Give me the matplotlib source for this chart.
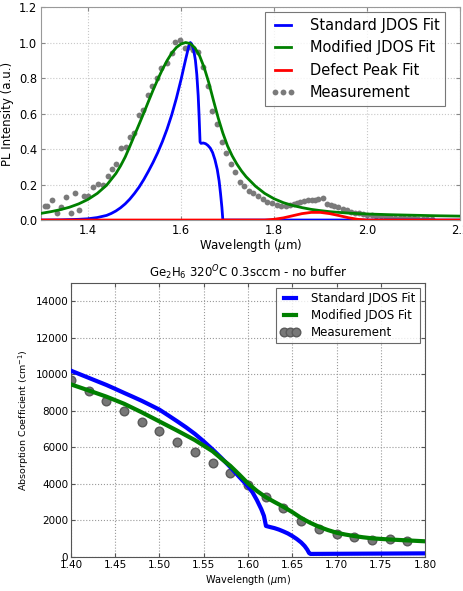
import numpy as np
import matplotlib
matplotlib.use('Agg')
import matplotlib.pyplot as plt

# ---- top panel: PL spectrum ----
pl_green_x = [1.30, 1.32, 1.34, 1.36, 1.38, 1.40, 1.42, 1.44, 1.46, 1.47, 1.48, 1.49, 1.50,
              1.51, 1.52, 1.53, 1.54, 1.55, 1.56, 1.57, 1.58, 1.59, 1.60, 1.61, 1.62, 1.63,
              1.64, 1.65, 1.66, 1.67, 1.68, 1.69, 1.70, 1.71, 1.72, 1.73, 1.74, 1.76, 1.78,
              1.80, 1.82, 1.84, 1.86, 1.88, 1.90, 1.92, 1.96, 2.00, 2.05, 2.10, 2.15, 2.20]
pl_green_y = [0.038, 0.047, 0.058, 0.072, 0.091, 0.116, 0.150, 0.196, 0.262, 0.305, 0.355,
              0.415, 0.478, 0.540, 0.603, 0.668, 0.732, 0.792, 0.848, 0.898, 0.940, 0.972,
              0.992, 1.000, 0.994, 0.970, 0.925, 0.858, 0.772, 0.672, 0.575, 0.490, 0.418,
              0.362, 0.316, 0.277, 0.244, 0.191, 0.150, 0.120, 0.098, 0.082, 0.070, 0.060,
              0.053, 0.047, 0.039, 0.034, 0.030, 0.027, 0.024, 0.022]

pl_blue_x = [1.30, 1.34, 1.38, 1.40, 1.42, 1.44, 1.45, 1.46, 1.47, 1.48, 1.49, 1.50, 1.51,
             1.52, 1.53, 1.54, 1.55, 1.56, 1.57, 1.58, 1.59, 1.60, 1.605, 1.61, 1.615, 1.618,
             1.620, 1.623, 1.627, 1.631, 1.634, 1.637, 1.639, 1.641, 1.643, 1.648, 1.653,
             1.658, 1.663, 1.668, 1.673, 1.678, 1.682, 1.685, 1.688, 1.690, 2.20]
pl_blue_y = [0.000, 0.001, 0.004, 0.007, 0.014, 0.026, 0.037, 0.051, 0.069, 0.091, 0.118,
             0.150, 0.186, 0.228, 0.275, 0.325, 0.380, 0.442, 0.512, 0.592, 0.685, 0.790,
             0.848, 0.905, 0.960, 0.990, 1.000, 0.992, 0.962, 0.900, 0.820, 0.700, 0.580,
             0.440, 0.432, 0.434, 0.430, 0.420, 0.405, 0.380, 0.340, 0.285, 0.220, 0.150,
             0.070, 0.000, 0.000]

pl_red_x = [1.30, 1.78, 1.80, 1.82, 1.84, 1.86, 1.88, 1.90, 1.92, 1.94, 1.96, 1.98, 2.00, 2.20]
pl_red_y = [0.0, 0.0, 0.004, 0.012, 0.024, 0.036, 0.043, 0.043, 0.036, 0.025, 0.013, 0.004, 0.0, 0.0]

pl_meas_x = [1.308, 1.312, 1.323, 1.333, 1.342, 1.352, 1.363, 1.372, 1.381, 1.392, 1.401,
             1.411, 1.422, 1.432, 1.442, 1.451, 1.460, 1.470, 1.481, 1.490, 1.499, 1.510,
             1.519, 1.530, 1.538, 1.548, 1.558, 1.569, 1.580, 1.587, 1.598, 1.609, 1.618,
             1.626, 1.637, 1.648, 1.659, 1.666, 1.677, 1.688, 1.697, 1.707, 1.716, 1.727,
             1.736, 1.747, 1.755, 1.766, 1.776, 1.786, 1.795, 1.806, 1.815, 1.826, 1.835,
             1.842, 1.849, 1.856, 1.865, 1.874, 1.881, 1.888, 1.895, 1.905, 1.913, 1.922,
             1.930, 1.938, 1.948, 1.956, 1.965, 1.974, 1.983, 1.992, 2.001, 2.010, 2.020,
             2.030, 2.040, 2.050, 2.060, 2.070, 2.080, 2.090, 2.100, 2.110, 2.120, 2.130,
             2.140]
pl_meas_y = [0.079, 0.079, 0.113, 0.041, 0.072, 0.128, 0.038, 0.151, 0.057, 0.138, 0.136,
             0.185, 0.202, 0.200, 0.249, 0.290, 0.315, 0.406, 0.409, 0.468, 0.490, 0.594,
             0.622, 0.707, 0.754, 0.802, 0.858, 0.887, 0.939, 1.003, 1.013, 0.968, 0.975,
             0.958, 0.947, 0.864, 0.754, 0.613, 0.542, 0.438, 0.377, 0.317, 0.273, 0.217,
             0.192, 0.164, 0.155, 0.136, 0.117, 0.104, 0.094, 0.085, 0.079, 0.081, 0.085,
             0.090, 0.094, 0.104, 0.109, 0.113, 0.113, 0.113, 0.117, 0.123, 0.091, 0.083,
             0.079, 0.072, 0.062, 0.057, 0.047, 0.041, 0.038, 0.034, 0.030, 0.027, 0.024,
             0.020, 0.018, 0.015, 0.013, 0.012, 0.010, 0.010, 0.009, 0.008, 0.008, 0.007,
             0.007]

# ---- bottom panel: absorption ----
abs_blue_x = [1.40, 1.41, 1.42, 1.43, 1.44, 1.45, 1.46, 1.47, 1.48, 1.49, 1.50, 1.51, 1.52,
              1.53, 1.54, 1.55, 1.56, 1.57, 1.58, 1.59, 1.60, 1.605, 1.61, 1.615, 1.618,
              1.6203, 1.625, 1.63, 1.635, 1.64, 1.645, 1.65, 1.655, 1.66, 1.664, 1.667,
              1.669, 1.6705, 1.80]
abs_blue_y = [10200, 10005, 9810, 9615, 9420, 9205, 8985, 8770, 8550, 8310, 8065, 7750,
              7430, 7100, 6740, 6330, 5890, 5420, 4920, 4390, 3870, 3550, 3120, 2620, 2250,
              1700, 1640, 1580, 1500, 1400, 1290, 1150, 990, 800, 600, 400, 220, 170, 200]

abs_green_x = [1.40, 1.42, 1.44, 1.46, 1.48, 1.50, 1.52, 1.54, 1.56, 1.57, 1.58, 1.59, 1.60,
               1.61, 1.62, 1.63, 1.64, 1.65, 1.66, 1.67, 1.68, 1.69, 1.70, 1.71, 1.72, 1.73,
               1.74, 1.75, 1.76, 1.77, 1.78, 1.79, 1.80]
abs_green_y = [9450, 9120, 8780, 8390, 7920, 7420, 6920, 6400, 5790, 5380, 4990, 4520, 4030,
               3620, 3280, 3010, 2750, 2460, 2140, 1880, 1660, 1480, 1330, 1230, 1150, 1080,
               1025, 990, 960, 935, 910, 885, 860]

abs_meas_x = [1.40, 1.42, 1.44, 1.46, 1.48, 1.50, 1.52, 1.54, 1.56, 1.58, 1.60, 1.62, 1.64,
              1.66, 1.68, 1.70, 1.72, 1.74, 1.76, 1.78]
abs_meas_y = [9690, 9100, 8540, 8010, 7410, 6900, 6310, 5730, 5160, 4580, 3960, 3300, 2660,
              1990, 1550, 1260, 1080, 930, 970, 860]

fig = plt.figure(figsize=(4.64, 5.91), dpi=100)

# top
ax1 = fig.add_axes([0.0894, 0.6277, 0.902, 0.3604])
ax1.plot(pl_blue_x, pl_blue_y, color='#0000ff', lw=2, label='Standard JDOS Fit', zorder=3)
ax1.plot(pl_green_x, pl_green_y, color='#008000', lw=2, label='Modified JDOS Fit', zorder=3)
ax1.plot(pl_red_x, pl_red_y, color='#ff0000', lw=2, label='Defect Peak Fit', zorder=3)
ax1.plot(pl_meas_x, pl_meas_y, 'o', color='#7a7a7a', mec='none', ms=4.2,
         label='Measurement', zorder=2)
ax1.set_xlim(1.3, 2.2)
ax1.set_ylim(0, 1.2)
ax1.set_xticks([1.4, 1.6, 1.8, 2.0, 2.2])
ax1.set_yticks([0.0, 0.2, 0.4, 0.6, 0.8, 1.0, 1.2])
ax1.grid(True, ls=':', color='#c8c8c8', lw=0.8)
ax1.tick_params(direction='in', top=True, right=True, labelsize=8.3, length=3,
                color='#888888', pad=3)
for sp in ax1.spines.values():
    sp.set_color('#999999')
ax1.set_xlabel(r'Wavelength ($\mu$m)', fontsize=8.5, labelpad=0)
ax1.set_ylabel('PL Intensity (a.u.)', fontsize=8.5, labelpad=4)
leg1 = ax1.legend(loc='upper right', bbox_to_anchor=(0.965, 0.975), fontsize=10.5,
                  numpoints=3, fancybox=False, handlelength=1.7, handletextpad=1.0,
                  borderpad=0.4, labelspacing=0.5, borderaxespad=0.0)
leg1.get_frame().set_edgecolor('#555555')
leg1.get_frame().set_linewidth(0.8)

# bottom
ax2 = fig.add_axes([0.153, 0.0575, 0.763, 0.4636])
ax2.plot(abs_blue_x, abs_blue_y, color='#0000ff', lw=3, label='Standard JDOS Fit', zorder=3)
ax2.plot(abs_green_x, abs_green_y, color='#008000', lw=3, label='Modified JDOS Fit', zorder=3)
ax2.plot(abs_meas_x, abs_meas_y, 'o', color='#777777', mec='#5a5a5a', ms=6.2,
         label='Measurement', zorder=2)
ax2.set_xlim(1.4, 1.8)
ax2.set_ylim(0, 15000)
ax2.set_xticks(np.arange(1.40, 1.801, 0.05))
ax2.set_yticks(np.arange(0, 14001, 2000))
ax2.grid(True, ls=':', color='#999999', lw=0.8)
ax2.tick_params(direction='in', top=True, right=True, labelsize=7.5, length=3,
                color='#555555', pad=2)
for sp in ax2.spines.values():
    sp.set_color('#555555')
ax2.set_title(r'Ge$_2$H$_6$ 320$^O$C 0.3sccm - no buffer', fontsize=8.5, pad=4)
ax2.set_xlabel(r'Wavelength ($\mu$m)', fontsize=7, labelpad=2)
ax2.set_ylabel(r'Absorption Coefficient (cm$^{-1}$)', fontsize=6.8, labelpad=3)
leg2 = ax2.legend(loc='upper right', bbox_to_anchor=(0.985, 0.982), fontsize=8.5,
                  numpoints=3, fancybox=False, handlelength=1.6, handletextpad=1.0,
                  borderpad=0.35, labelspacing=0.35, borderaxespad=0.0)
leg2.get_frame().set_edgecolor('#444444')
leg2.get_frame().set_linewidth(0.8)

fig.savefig('out.png', dpi=100)
